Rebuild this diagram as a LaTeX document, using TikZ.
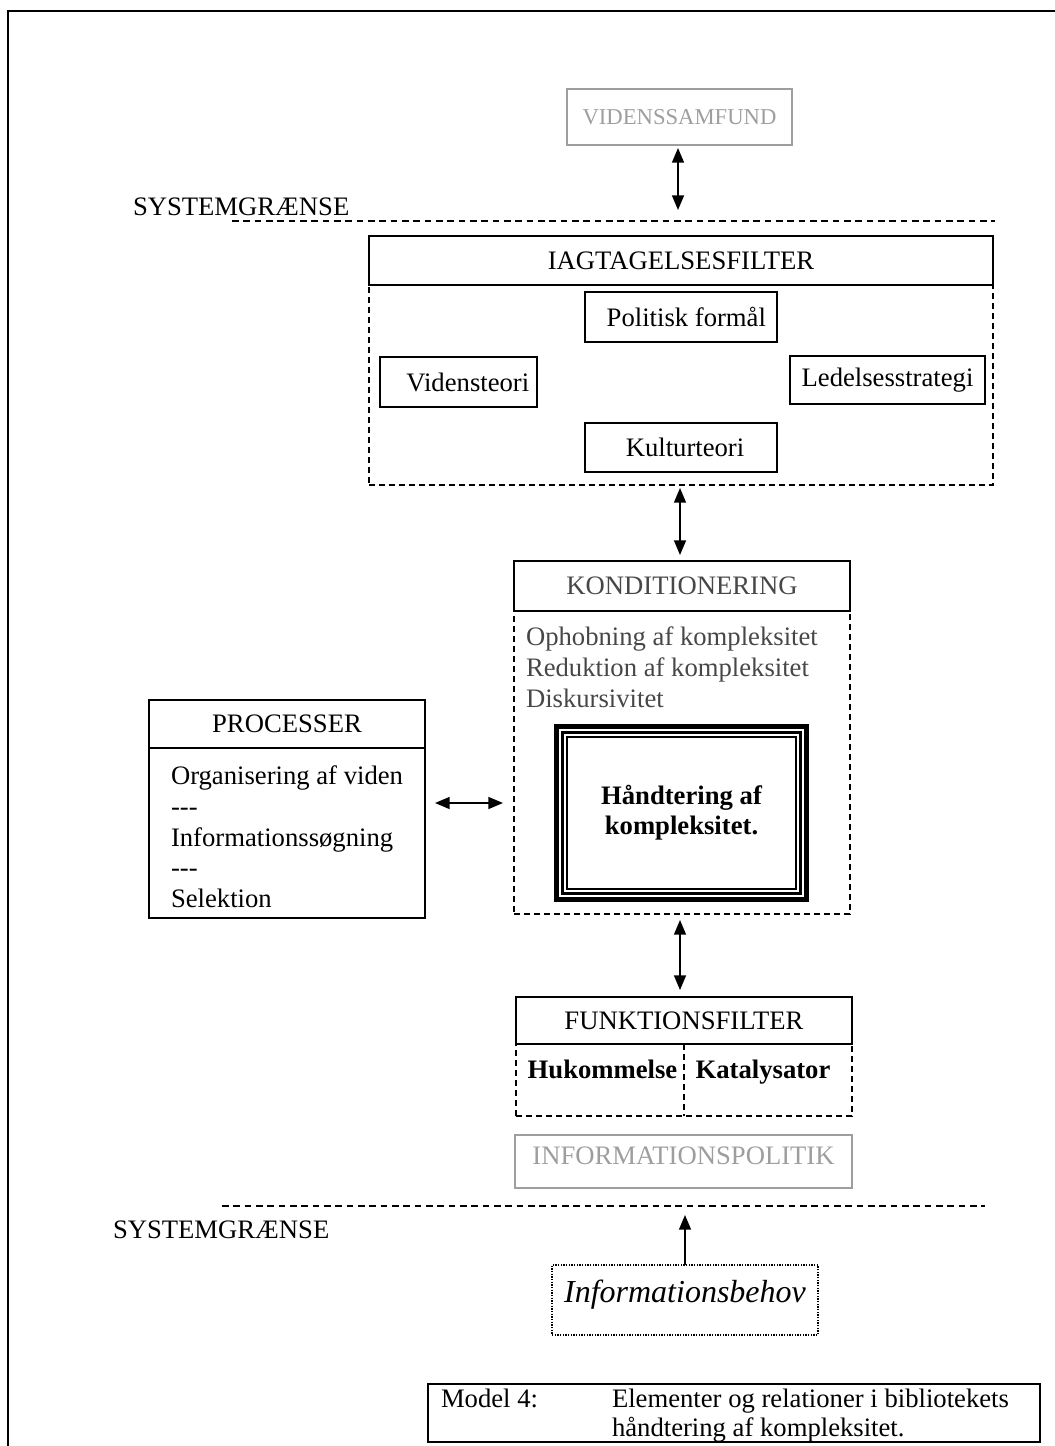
\documentclass[tikz,border=0pt]{standalone}
\usepackage{fontspec}
\setmainfont{Liberation Serif}
\usetikzlibrary{arrows.meta,positioning}
\definecolor{lightgrey}{gray}{0.62}
\definecolor{textgrey}{gray}{0.28}
\newcommand{\threedash}{-\kern0pt-\kern0pt-}

\begin{document}
\begin{tikzpicture}[x=0.75pt, y=-0.75pt,
    every node/.style={font=\fontsize{20}{23}\selectfont, inner sep=0pt, outer sep=0pt},
    boxsize/.style 2 args={minimum width=#1*0.75pt, minimum height=#2*0.75pt},
    hdrbox/.style={draw, line width=1.1pt, fill=white},
    solidbox/.style={draw, line width=1.1pt},
    bodybox/.style={draw, line width=1pt, dash pattern=on 4.5pt off 3pt},
    greybox/.style={draw=lightgrey, text=lightgrey, line width=1.3pt},
    dotbox/.style={draw, line width=1.3pt, dash pattern=on 1pt off 1pt},
    sysline/.style={line width=1pt, dash pattern=on 5pt off 3.5pt},
    >={Triangle[length=11pt, width=9pt]},
    dbl/.style={<->, line width=1.1pt},
    sgl/.style={->, line width=1.1pt}]
  \useasboundingbox (0,0) rectangle (1055,1446);
  % page frame
  \draw[line width=1.5pt] (8,1446) -- (8,11) -- (1055,11);

  % outer system boundary
  \node[greybox, boxsize={225}{56}, font=\fontsize{17}{20}\selectfont] (vsam) at (679.5,117) {VIDENSSAMFUND};
  \node[anchor=base west] (sgtop) at (133,215) {SYSTEMGRÆNSE};
  \coordinate (sgtopa) at (232,221);
  \coordinate (sgtopb) at (995,221);
  \draw[sysline] (sgtopa) -- (sgtopb);

  % iagttagelsesfilter
  \node[bodybox, boxsize={624}{200}] (iagbody) at (681,385) {};
  \node[hdrbox, boxsize={624}{49}] (iag) at (681,260.5) {IAGTAGELSESFILTER};
  \node[solidbox, boxsize={192}{50}] (pol) at (681,317) {\hspace{8pt}Politisk formål};
  \node[solidbox, boxsize={157}{50}] (vid) at (458.5,382) {\hspace{14pt}Vidensteori};
  \node[solidbox, boxsize={195}{48}] (led) at (887.5,380) {Ledelsesstrategi};
  \node[solidbox, boxsize={192}{49}] (kul) at (681,447.5) {\hspace{6pt}Kulturteori};
  \draw[dbl, shorten <=2.25pt, shorten >=19.5pt] (vsam.south -| 678,0) -- (iag.north -| 678,0);

  % konditionering
  \node[bodybox, boxsize={336}{303}] (konbody) at (682,762.5) {};
  \node[hdrbox, boxsize={336}{50}, text=textgrey] (kon) at (682,586) {KONDITIONERING};
  \node[anchor=north west, align=left, text=textgrey, font=\fontsize{20}{23.5}\selectfont] (konlist) at (526,626.5)
    {Ophobning af kompleksitet\\Reduktion af kompleksitet\\Diskursivitet};
  \node[boxsize={255}{178}, align=center, font=\fontsize{20}{22.5}\selectfont\bfseries] (hand) at (681.5,813)
    {Håndtering af\\kompleksitet.};
  \draw[line width=3.75pt] ([shift={(2.5,2.5)}]hand.north west) rectangle ([shift={(-2.5,-2.5)}]hand.south east);
  \draw[line width=2.25pt] ([shift={(8.5,8.5)}]hand.north west) rectangle ([shift={(-8.5,-8.5)}]hand.south east);
  \draw[line width=1.5pt] ([shift={(13,13)}]hand.north west) rectangle ([shift={(-13,-13)}]hand.south east);
  \draw[dbl, shorten <=2.25pt, shorten >=4.5pt] (iagbody.south -| 680,0) -- (kon.north -| 680,0);

  % processer
  \node[solidbox, boxsize={276}{218}] (procbody) at (287,809) {};
  \node[hdrbox, boxsize={276}{48}] (proc) at (287,724) {PROCESSER};
  \node[anchor=north west, align=left] (proclist) at (171,766)
    {Organisering af viden\\\threedash\\Informationssøgning\\\threedash\\Selektion};
  \draw[dbl, shorten <=7.5pt, shorten >=8.25pt] ([yshift=4.5pt]procbody.east) coordinate (pa) -- (pa -| konbody.west);

  % funktionsfilter
  \node[bodybox, boxsize={336}{72}] (funbody) at (684,1080) {};
  \node[hdrbox, boxsize={336}{47}] (fun) at (684,1020.5) {FUNKTIONSFILTER};
  \draw[bodybox] (fun.south) -- (funbody.south);
  \node[anchor=base, font=\fontsize{20}{23}\selectfont\bfseries] (huk) at (602.5,1078) {Hukommelse};
  \node[anchor=base, font=\fontsize{20}{23}\selectfont\bfseries] (kat) at (763,1078) {Katalysator};
  \draw[dbl, shorten <=4.5pt, shorten >=5.25pt] (konbody.south -| 680,0) -- (fun.north -| 680,0);

  % informationspolitik + inner system boundary
  \node[greybox, boxsize={337}{53}, text height=14pt, text depth=9pt] (ipol) at (683.5,1161.5) {INFORMATIONSPOLITIK};
  \coordinate (sgbota) at (222,1206);
  \coordinate (sgbotb) at (985,1206);
  \draw[sysline] (sgbota) -- (sgbotb);
  \node[anchor=base west] (sgbot) at (113,1238) {SYSTEMGRÆNSE};

  % informationsbehov
  \node[dotbox, boxsize={266}{70}, text height=17pt, text depth=13.5pt,
        font=\fontsize{24}{28}\selectfont\itshape] (ibehov) at (685,1300) {Informationsbehov};
  \coordinate (bmark) at (685,1215);
  \draw[sgl] (ibehov.north) -- (bmark);

  % caption
  \node[solidbox, boxsize={612}{58}] (cap) at (734,1413) {};
  \node[anchor=base west] (capnum) at (441,1407) {Model 4:};
  \node[anchor=north west, align=left, font=\fontsize{20}{22}\selectfont] (captext) at (612,1389)
    {Elementer og relationer i bibliotekets\\håndtering af kompleksitet.};
\end{tikzpicture}
\end{document}
